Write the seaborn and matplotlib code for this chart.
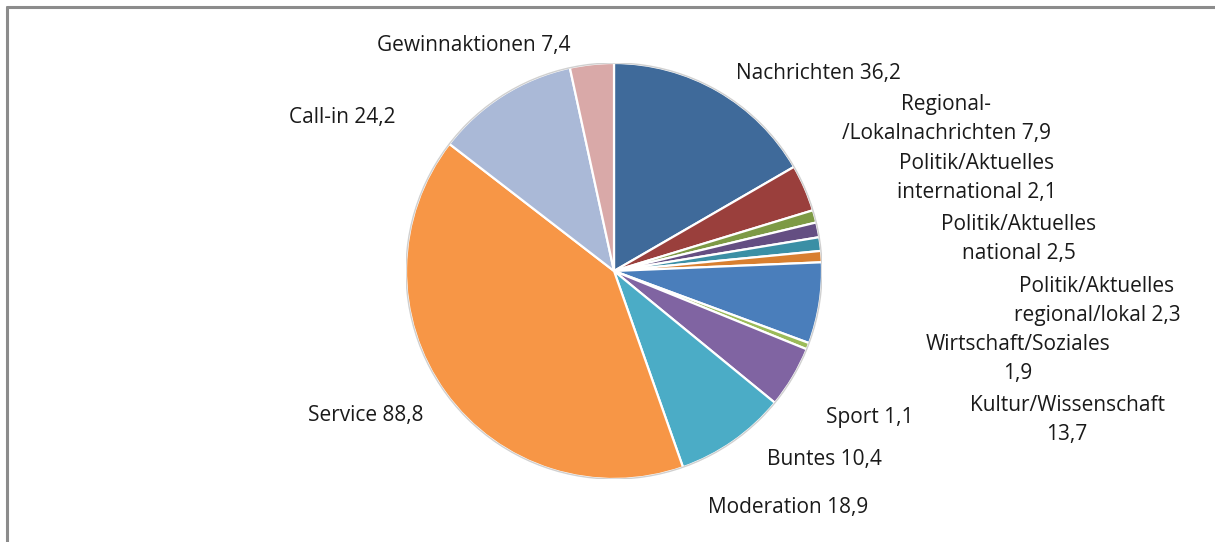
import matplotlib
matplotlib.use("Agg")
import matplotlib.pyplot as plt
import seaborn as sns
from matplotlib.lines import Line2D

sns.set_theme(style="white")
plt.rcParams['font.family'] = ['Open Sans', 'DejaVu Sans']

categories = ["Nachrichten", "Regional-\n/Lokalnachrichten", "Politik/Aktuelles\ninternational",
              "Politik/Aktuelles\nnational", "Politik/Aktuelles\nregional/lokal",
              "Wirtschaft/Soziales\n", "Kultur/Wissenschaft\n", "Sport", "Buntes",
              "Moderation", "Service", "Call-in", "Gewinnaktionen"]
values = [36.2, 7.9, 2.1, 2.5, 2.3, 1.9, 13.7, 1.1, 10.4, 18.9, 88.8, 24.2, 7.4]
colors = ["#3F6A9A", "#9A3F3C", "#7D9A45", "#644E82", "#3A8FA5", "#D87F30",
          "#4A7EBB", "#9BBB59", "#8064A2", "#4BACC6", "#F79646", "#AAB9D7", "#D9A9A8"]

# label anchor positions in figure pixels (x, y from top)
label_pos = [(818, 74), (946, 119), (977, 178), (1019, 239), (1097, 301),
             (1018, 359), (1067, 420), (870, 418), (824, 460), (788, 507),
             (366, 415), (342, 118), (474, 46)]

W, H = 1215, 542
fig = plt.figure(figsize=(W / 100, H / 100), dpi=100)
fig.patch.set_facecolor("white")

cx, cy, r = 614, 271, 208
ax = fig.add_axes([(cx - r) / W, 1 - (cy + r) / H, 2 * r / W, 2 * r / H])
ax.pie(values, colors=colors, startangle=90, counterclock=False,
       wedgeprops=dict(edgecolor="white", linewidth=1.6))
ax.set_xlim(-1, 1)
ax.set_ylim(-1, 1)
ax.set_aspect("equal")
ax.axis("off")

# outer thin outline
circ = plt.Circle((0, 0), 1.0, fill=False, edgecolor="#D0D0D0", linewidth=1.0)
ax.add_patch(circ)

for cat, val, (px, py) in zip(categories, values, label_pos):
    txt = f"{val:.1f}".replace(".", ",")
    if cat.endswith("\n"):
        label = cat + txt
    else:
        label = cat + " " + txt
    fig.text(px / W, 1 - py / H, label, ha="center", va="center",
             fontsize=15, color="#1a1a1a", linespacing=1.45)

# frame lines on top and left
fig.add_artist(Line2D([7 / W, 1], [1 - 7 / H, 1 - 7 / H], color="#8C8C8C", linewidth=2.2))
fig.add_artist(Line2D([7 / W, 7 / W], [0, 1 - 7 / H], color="#8C8C8C", linewidth=2.2))

fig.savefig("out.png", dpi=100, facecolor="white")
